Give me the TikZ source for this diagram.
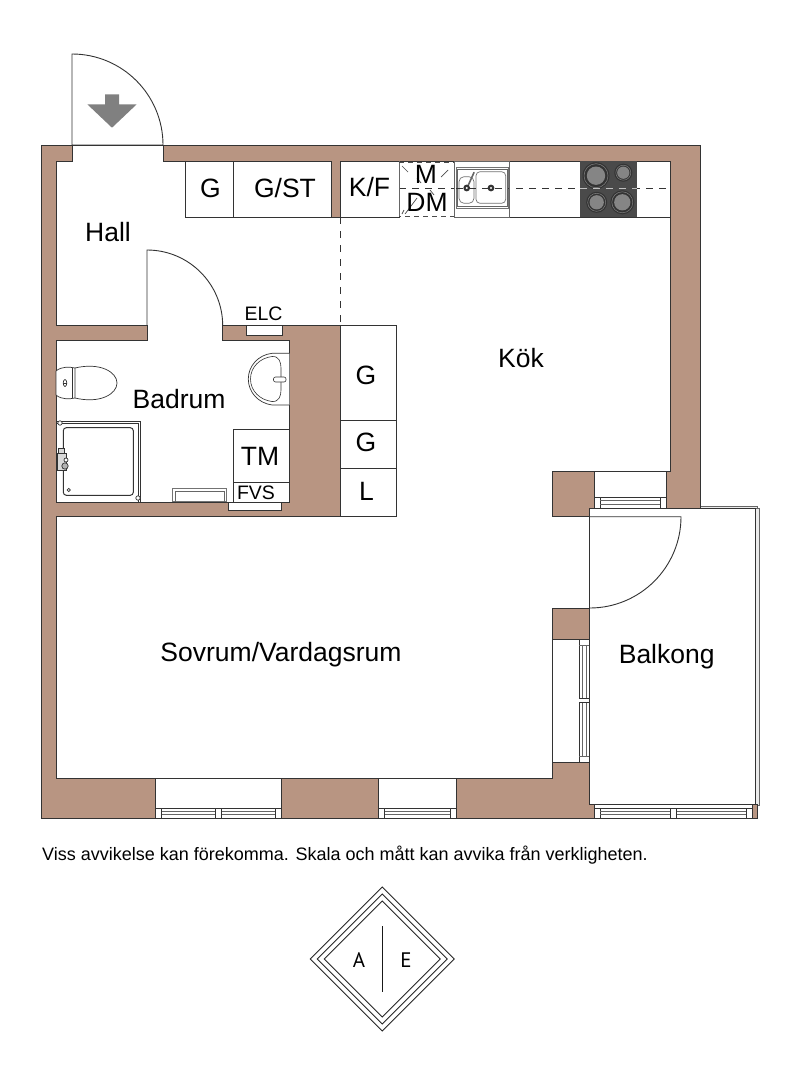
\documentclass[tikz,border=0pt]{standalone}
\usepackage{fontspec}
\setmainfont{Liberation Sans}
\newfontfamily\logofont{PT Sans}
\definecolor{wallc}{HTML}{B89582}
\definecolor{linec}{HTML}{333333}
\definecolor{hobc}{HTML}{4A4A4A}
\definecolor{burnc}{HTML}{858585}
\tikzset{
  wall/.style={fill=wallc,draw=linec,line width=1pt,line join=miter},
  room/.style={fill=white,draw=linec,line width=1pt,line join=miter},
  thin line/.style={draw=linec,line width=0.9pt},
  cab/.style={fill=white,draw=linec,line width=1pt},
  lab/.style={anchor=base,inner sep=0pt,font=\fontsize{26.5}{28}\selectfont,text=black},
  smalllab/.style={anchor=base,inner sep=0pt,font=\fontsize{19.5}{22}\selectfont,text=black},
  glass/.style={fill=white,draw=linec,line width=0.8pt},
  fixture/.style={fill=white,draw=linec,line width=0.7pt},
  grayfix/.style={draw=black!55,line width=1pt,fill=white},
  rail/.style={fill=black!8,draw=black!60,line width=0.7pt},
  logo/.style={draw=black!85,line width=0.9pt},
}
% horizontal window strip: #1 left, #2 right, #3 top, #4 bottom
\newcommand{\hwin}[4]{%
  \draw[glass] (#1,#3) rectangle (#2,#4);
  \draw[glass] (#1+6,#3) -- (#1+6,#4) (#2-6,#3) -- (#2-6,#4);
  \pgfmathsetmacro{\ya}{#3+3.2}\pgfmathsetmacro{\yb}{#4-3.2}
  \draw[thin line,draw=black!60] (#1+6,\ya) -- (#2-6,\ya) (#1+6,\yb) -- (#2-6,\yb);
}
\newcommand{\hmull}[3]{%
  \fill[white] (#1-3,#2+.5) rectangle (#1+3,#3-.5);
  \draw[glass] (#1-3,#2) -- (#1-3,#3) (#1+3,#2) -- (#1+3,#3);
}
\begin{document}
\begin{tikzpicture}[x=1pt,y=-1pt]
\useasboundingbox (0,0) rectangle (800,1087);
\fill[white] (0,0) rectangle (800,1087);

% balcony railing
\draw[rail] (700,506) -- (757,506) -- (757,510.7) -- (700,510.7) -- cycle;
\draw[rail] (755,508) -- (759.7,508) -- (759.7,805) -- (755,805) -- cycle;
\draw[wall] (752,804.3) rectangle (757.5,818.5);

% walls
\draw[wall] (41,145) -- (700.5,145) -- (700.5,508) -- (589.7,508) -- (589.7,804.3)
  -- (594.3,804.3) -- (594.3,818.5) -- (41,818.5) -- cycle;

% interior
\draw[room] (56,161) -- (72,161) -- (72,145) -- (163,145) -- (163,161) -- (331.5,161)
  -- (331.5,217) -- (340,217) -- (340,161) -- (670.5,161) -- (670.5,471.7) -- (666,471.7)
  -- (666,508) -- (594.3,508) -- (594.3,471.7) -- (552,471.7) -- (552,516.7) -- (589.7,516.7)
  -- (589.7,608.3) -- (552,608.3) -- (552,639) -- (589.7,639) -- (589.7,762.3) -- (552,762.3)
  -- (552,778.5) -- (456,778.5) -- (456,818.5) -- (378.7,818.5) -- (378.7,778.5) -- (281,778.5)
  -- (281,818.5) -- (155.7,818.5) -- (155.7,778.5) -- (56,778.5) -- (56,516) -- (340,516)
  -- (340,325) -- (222.7,325) -- (222.7,340) -- (289.3,340) -- (289.3,502) -- (56,502)
  -- (56,340) -- (147,340) -- (147,325) -- (56,325) -- cycle;

% window reveals
\draw[thin line] (155.7,778.5) -- (281,778.5) (378.7,778.5) -- (456,778.5);
\draw[thin line] (594.3,471.7) -- (670.5,471.7);
\draw[thin line] (552,639) -- (552,762.3);

% balcony
\draw[room] (589.7,508) -- (755,508) -- (755,804.3) -- (589.7,804.3) -- cycle;
\draw[glass] (594.3,804.3) -- (752,804.3) -- (752,818.5) -- (594.3,818.5) -- cycle;

% windows
\hwin{155.7}{281}{808.5}{818}\hmull{218.5}{808.5}{818}
\hwin{378.7}{456}{808.5}{818}
\hwin{594.3}{666}{497.7}{508}
\hwin{594.3}{752}{808}{818}\hmull{673.5}{808}{818}
% vertical window at balcony
\draw[glass] (579,639) rectangle (589,762.3);
\draw[thin line,draw=black!60] (582.5,645) -- (582.5,756.5) (586,645) -- (586,756.5);
\fill[white] (579.4,698) rectangle (588.6,702.5);
\draw[glass] (579,698) -- (589,698) (579,702.5) -- (589,702.5);
\draw[thin line,draw=black!60] (579,645) -- (589,645) (579,756.5) -- (589,756.5);

% entrance door
\draw[thin line] (72,145) -- (72,54) arc[start angle=-90,end angle=0,radius=91] -- cycle;
\fill[black!50] (105,94.3) -- (119,94.3) -- (119,104.3) -- (136.7,104.3) -- (112,127.7) -- (87.3,104.3) -- (105,104.3) -- cycle;
% bathroom door
\draw[thin line] (147,325) -- (147,250) arc[start angle=-90,end angle=0,radius=75.7];
% balcony door
\draw[thin line] (589.7,516.7) -- (681,516.7) arc[start angle=0,end angle=90,radius=91.3];

% wardrobes
\draw[cab] (185.3,161) rectangle (233.3,217);
\draw[cab] (233.3,161) rectangle (331.5,217);
\draw[cab] (340,161) rectangle (399.3,217);
\draw[cab] (509,161) rectangle (670.5,217);
\draw[cab] (340,325) rectangle (396,420.5);
\draw[cab] (340,420.5) rectangle (396,468.3);
\draw[cab] (340,468.3) rectangle (396,516);

% kitchen dashed lines
\draw[thin line,dash pattern=on 7pt off 7pt] (340,217) -- (340,325);
\draw[thin line,dash pattern=on 7pt off 6pt] (399.3,188.3) -- (670.5,188.3);

% hob
\fill[hobc] (580,161) rectangle (636.7,217);
\foreach \cx/\cy/\r in {596/175.7/13.5,623.3/172.7/9,596.7/202.3/10.5,622.3/202.3/12}{
  \fill[black!80] (\cx,\cy) circle[radius=\r];
  \draw[black!50,line width=.5pt] (\cx,\cy) circle[radius=\r-1.5];
  \fill[burnc] (\cx,\cy) circle[radius=\r*0.68];
}
\draw[black!25,dash pattern=on 7pt off 6pt,line width=.6pt] (580,188.3) -- (636.7,188.3);

% M / DM box
\draw[black!60,line width=.8pt] (399.3,161) -- (399.3,217);
\draw[black!70,line width=1pt,dash pattern=on 5pt off 4pt] (399.3,162) -- (454,162) -- (454,216) -- (399.3,216);
\draw[black!70,line width=.7pt] (402,166) -- (408,172) (417,178) -- (421,183) (448,170) -- (441,177)
  (430,190) -- (434,195) (417,198) -- (405,214) (404,210) -- (402,214);

% sink
\draw[cab,draw=black!60] (454,161) rectangle (509,217);
\draw[grayfix] (456,167.3) rectangle (508.3,208.3);
\draw[draw=black!60,line width=.6pt] (457.5,169) rectangle (506.8,206.5);
\draw[grayfix,line width=.7pt,rounded corners=5pt] (459,176.7) rectangle (474,203.3);
\draw[grayfix,line width=.7pt,rounded corners=4pt] (476,171.7) rectangle (505.7,203.3);
\draw[thin line,dash pattern=on 7pt off 6pt] (456,188.3) -- (509,188.3);
\draw[black!60,line width=1.6pt,line cap=round] (467,188) -- (474,172.5);
\fill[black!80] (466.7,188) circle[radius=3.4];\fill[white] (466.7,188) circle[radius=1.2];
\fill[black!80] (491,188) circle[radius=3.4];\fill[white] (491,188) circle[radius=1.2];

% ELC and FVS boxes
\draw[fixture] (246,325) rectangle (282.7,335.3);
\draw[fixture] (228.7,502) rectangle (281.3,510.7);

% washing machine TM and FVS
\draw[fixture] (233.3,429.3) rectangle (289.3,482.7);
\draw[thin line] (233.3,482.7) -- (233.3,502);

% drain rectangle
\draw[grayfix] (172.7,488.3) -- (172.7,501.7) -- (226.7,501.7) -- (226.7,488.3) -- cycle;
\draw[thin line,draw=black!60] (175,501.7) -- (175,491.3) -- (224,491.3) -- (224,501.7);

% toilet
\draw[fixture] (75,368) .. controls (100,362) and (117,372) .. (117,383) .. controls (117,394) and (100,404) .. (75,398);
\draw[fixture] (56,371) .. controls (62,366) and (70,367) .. (75,368) -- (75,398) .. controls (70,399) and (62,400) .. (56,395) -- cycle;
\draw[thin line,line width=.6pt] (72,368) -- (72,398);
\draw[fixture] (65,383) ellipse[x radius=1.8,y radius=3.5];
\draw[thin line,line width=.6pt] (63.2,383) -- (66.8,383);

% wash basin
\draw[fixture] (289.3,353.3) -- (272,353.3) .. controls (258,355) and (248.3,366) .. (248.3,379) .. controls (248.3,392) and (258,403) .. (272,405) -- (289.3,405);
\draw[fixture,line width=.6pt] (272,356.5) .. controls (260,358) and (250.5,367) .. (250.5,379) .. controls (250.5,391) and (260,400) .. (272,401.5)
  .. controls (279,402) and (281,396) .. (281,390) -- (281,368) .. controls (281,362) and (279,356) .. (272,356.5);
\draw[fixture,line width=.6pt,rounded corners=2pt] (273.5,377) rectangle (286,382);

% shower
\draw[fixture] (56,421) -- (140.7,421) -- (140.7,501.7);
\draw[thin line,line width=.6pt] (56,423.5) -- (138,423.5) -- (138,501.7);
\draw[thin line,line width=1pt,rounded corners=3pt] (63.3,427.7) rectangle (133.3,495.3);
\draw[fixture] (60,423) circle[radius=2.2];
\draw[fixture] (138,498) circle[radius=2.2];
\draw[fixture] (68.7,490) circle[radius=1.6];
\draw[fixture,fill=black!15] (58,448) rectangle (64,453);
\draw[fixture,fill=black!15] (57,453) rectangle (66,470);
\draw[fixture,fill=black!30] (65,466) circle[radius=3.2];
\draw[fixture] (66,460) circle[radius=2];

% labels
\node[lab] (hall) at (108,241.7) {Hall};
\node[lab] (g1) at (210.5,197.3) {G};
\node[lab] (gst) at (285,197.3) {G/ST};
\node[lab] (kf) at (369.5,196) {K/F};
\node[lab] (m) at (426,183) {M};
\node[lab] (dm) at (427,211) {DM};
\node[lab] (kok) at (521,367) {Kök};
\node[lab] (badrum) at (179,408) {Badrum};
\node[lab] (tm) at (260,465) {TM};
\node[smalllab] (fvs) at (256,499) {FVS};
\node[smalllab] (elc) at (263.5,320.7) {ELC};
\node[lab] (g2) at (366,384) {G};
\node[lab] (g3) at (366,451.7) {G};
\node[lab] (l) at (366.5,500) {L};
\node[lab] (sovrum) at (281,661) {Sovrum/Vardagsrum};
\node[lab] (balkong) at (666.7,663) {Balkong};
\node[anchor=base west,inner sep=0pt,font=\fontsize{18}{20}\selectfont,text=black] (note) at (42,860) {Viss avvikelse kan förekomma. Skala och mått kan avvika från verkligheten.};

% logo
\foreach \r in {72,65,58}{
  \draw[logo] (382.3,959-\r) -- (382.3+\r,959) -- (382.3,959+\r) -- (382.3-\r,959) -- cycle;
}
\draw[black!90,line width=1.2pt] (382.3,926) -- (382.3,992);
\node[anchor=base,inner sep=0pt,font=\logofont\fontsize{21}{22}\selectfont] (a) at (359,967) {A};
\node[anchor=base,inner sep=0pt,font=\logofont\fontsize{21}{22}\selectfont] (e) at (406,967) {E};
\end{tikzpicture}
\end{document}
